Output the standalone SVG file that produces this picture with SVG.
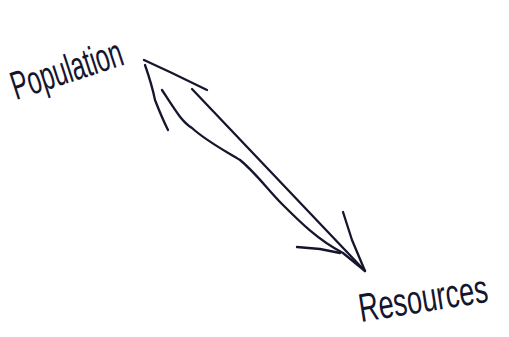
<svg xmlns="http://www.w3.org/2000/svg" width="509" height="337" viewBox="0 0 509 337">
<style>
.ink{fill:none;stroke:#15152e;stroke-width:2.3;stroke-linecap:round;stroke-linejoin:round}
.lbl{font-family:"Liberation Sans",sans-serif;fill:#15152e}
</style>
<rect width="509" height="337" fill="#ffffff"/>
<g id="population">
<text class="lbl" transform="translate(16,100) rotate(-18) scale(0.61,1)" font-size="40">Population</text>
</g>
<g id="resources">
<text class="lbl" transform="translate(361,322) rotate(-9) scale(0.68,1)" font-size="40">Resources</text>
</g>
<g id="connectors">
<path class="ink" d="M144,60 L172,73 L207,90"/>
<path class="ink" d="M145,65 Q152,85 155,100 Q162,118 168,130"/>
<path class="ink" d="M192,89 L365,271"/>
<path class="ink" d="M162,90 C175,110 182,122 192,128 C205,140 220,148 240,160 C255,172 268,190 282,204 C300,222 318,240 343,253 L365,271"/>
<path class="ink" d="M343,212 L352,240 L365,271"/>
<path class="ink" d="M297,247 L320,249 L340,253"/>
</g>
</svg>
